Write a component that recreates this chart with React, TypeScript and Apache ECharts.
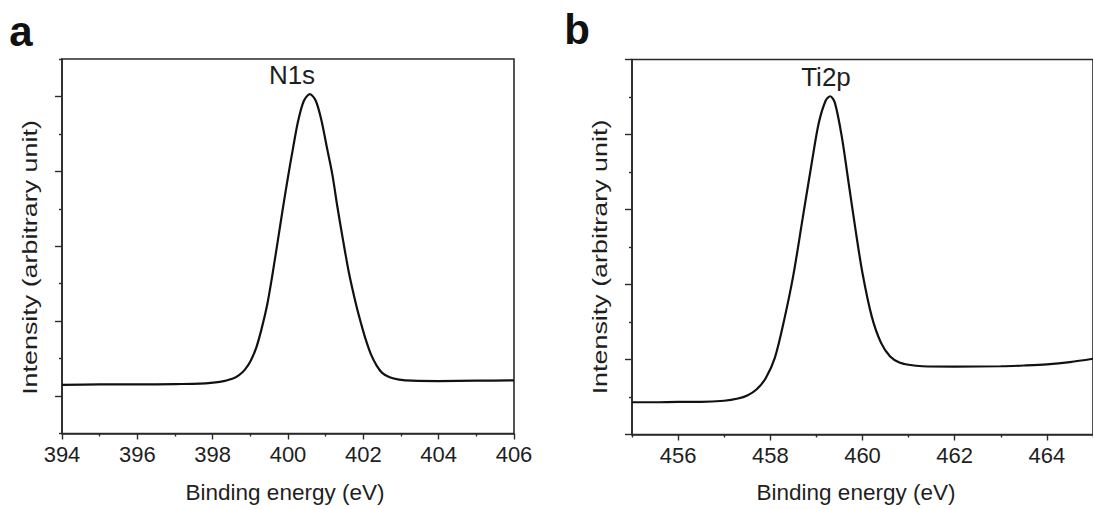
import React, { useEffect, useRef } from "react";
import * as echarts from "echarts";

// N1s spectrum (panel a)
const n1sEnergy = [394.0, 395.0, 396.0, 397.0, 397.66, 398.19, 398.54, 398.7, 398.85, 399.0, 399.16, 399.3, 399.45, 399.58, 399.73, 399.87, 400.0, 400.13, 400.27, 400.42, 400.58, 400.74, 400.89, 401.03, 401.18, 401.31, 401.46, 401.62, 401.82, 401.95, 402.06, 402.2, 402.35, 402.5, 402.7, 402.95, 403.3, 404.0, 405.0, 406.0];
const n1sIntensity = [1.30, 1.31, 1.31, 1.32, 1.33, 1.38, 1.47, 1.56, 1.70, 1.92, 2.30, 2.80, 3.45, 4.20, 5.15, 6.05, 6.85, 7.60, 8.35, 8.88, 9.06, 8.88, 8.35, 7.65, 6.90, 6.06, 5.17, 4.28, 3.39, 2.90, 2.52, 2.12, 1.82, 1.62, 1.50, 1.44, 1.41, 1.40, 1.41, 1.42];

// Ti2p spectrum (panel b)
const ti2pEnergy = [455.0, 455.5, 456.0, 456.5, 457.0, 457.3, 457.5, 457.7, 457.9, 458.1, 458.3, 458.5, 458.7, 458.9, 459.05, 459.2, 459.3, 459.4, 459.55, 459.7, 459.85, 460.0, 460.2, 460.4, 460.6, 460.8, 461.0, 461.3, 462.0, 463.0, 463.5, 464.0, 464.5, 465.0];
const ti2pIntensity = [0.86, 0.86, 0.87, 0.87, 0.90, 0.96, 1.04, 1.20, 1.50, 2.05, 3.05, 4.25, 5.75, 7.25, 8.30, 8.90, 9.02, 8.85, 7.95, 6.70, 5.45, 4.30, 3.15, 2.45, 2.08, 1.92, 1.86, 1.82, 1.81, 1.82, 1.84, 1.87, 1.93, 2.02];

// Axis ticks
const n1sXLabels = [394, 396, 398, 400, 402, 404, 406];
const ti2pXLabels = [456, 458, 460, 462, 464];
const ti2pXMinor = [455, 457, 459, 461, 463, 465];
const n1sYMajor = [1, 3, 5, 7, 9];

const FONT = "'Liberation Sans', Arial, Helvetica, sans-serif";
const AX = "#2a2a2a";
const TXT = "#1e1e1e";

export default function App() {
  const ref = useRef<HTMLDivElement>(null);
  useEffect(() => {
    if (!ref.current) return;
    const chart = echarts.init(ref.current, null, { renderer: "svg" });
    const axisLine = { show: true, lineStyle: { color: AX, width: 1.6 } };
    const labelStyle = { color: TXT, fontSize: 22, fontFamily: FONT, margin: 10 };
    const hidden = { show: false };
    const option: any = {
      animation: false,
      backgroundColor: "#ffffff",
      grid: [
        { left: 62, top: 59, right: 579, bottom: 75.5, show: true, borderColor: AX, borderWidth: 1.6, backgroundColor: "transparent" },
        { left: 632, top: 59.5, right: -7, bottom: 74.5, show: true, borderColor: AX, borderWidth: 1.6, backgroundColor: "transparent" },
      ],
      xAxis: [
        {
          type: "value", gridIndex: 0, position: "bottom", min: 394, max: 406, interval: 2,
          axisLine, splitLine: hidden,
          axisTick: { show: true, inside: false, length: 6, lineStyle: { color: AX, width: 1.4 } },
          minorTick: { show: true, splitNumber: 2, length: 3, lineStyle: { color: AX, width: 1.4 } },
          axisLabel: { ...labelStyle, customValues: n1sXLabels },
        },
        {
          type: "value", gridIndex: 1, position: "bottom", min: 455, max: 465,
          axisLine, splitLine: hidden,
          axisTick: { show: true, inside: false, length: 6, customValues: ti2pXLabels, lineStyle: { color: AX, width: 1.4 } },
          axisLabel: { ...labelStyle, customValues: ti2pXLabels },
        },
        {
          type: "value", gridIndex: 1, position: "bottom", offset: 0, min: 455, max: 465,
          axisLine: hidden, splitLine: hidden, axisLabel: hidden,
          axisTick: { show: true, inside: false, length: 3, customValues: ti2pXMinor, lineStyle: { color: AX, width: 1.4 } },
        },
      ],
      yAxis: [
        {
          type: "value", gridIndex: 0, position: "left", min: 0, max: 10, interval: 2,
          axisLine, splitLine: hidden, axisLabel: hidden,
          axisTick: { show: true, inside: false, length: 3, lineStyle: { color: AX, width: 1.4 } },
        },
        {
          type: "value", gridIndex: 0, position: "left", offset: 0, min: 0, max: 10,
          axisLine: hidden, splitLine: hidden, axisLabel: hidden,
          axisTick: { show: true, inside: false, length: 7, customValues: n1sYMajor, lineStyle: { color: AX, width: 1.4 } },
        },
        {
          type: "value", gridIndex: 1, position: "left", min: 0, max: 10, interval: 2,
          axisLine, splitLine: hidden, axisLabel: hidden,
          axisTick: { show: true, inside: false, length: 7, lineStyle: { color: AX, width: 1.4 } },
          minorTick: { show: true, splitNumber: 2, length: 3, lineStyle: { color: AX, width: 1.4 } },
        },
      ],
      series: [
        {
          type: "line", xAxisIndex: 0, yAxisIndex: 0, showSymbol: false, smooth: 0.3,
          lineStyle: { color: "#111111", width: 2.2 },
          data: n1sEnergy.map((e, i) => [e, n1sIntensity[i]]),
        },
        {
          type: "line", xAxisIndex: 1, yAxisIndex: 2, showSymbol: false, smooth: 0.3,
          lineStyle: { color: "#111111", width: 2.2 },
          data: ti2pEnergy.map((e, i) => [e, ti2pIntensity[i]]),
        },
      ],
      graphic: [
        { type: "text", x: 21, y: 31, style: { text: "a", font: `bold 42px ${FONT}`, fill: "#111", align: "center", verticalAlign: "middle" } },
        { type: "text", x: 577, y: 29, style: { text: "b", font: `bold 42px ${FONT}`, fill: "#111", align: "center", verticalAlign: "middle" } },
        { type: "text", x: 292, y: 75, style: { text: "N1s", font: `26px ${FONT}`, fill: TXT, align: "center", verticalAlign: "middle" } },
        { type: "text", x: 826, y: 77, style: { text: "Ti2p", font: `26px ${FONT}`, fill: TXT, align: "center", verticalAlign: "middle" } },
        { type: "text", x: 285, y: 492, style: { text: "Binding energy (eV)", font: `22.5px ${FONT}`, fill: TXT, align: "center", verticalAlign: "middle" } },
        { type: "text", x: 856, y: 492, style: { text: "Binding energy (eV)", font: `22.5px ${FONT}`, fill: TXT, align: "center", verticalAlign: "middle" } },
        { type: "text", x: 30, y: 257.5, rotation: Math.PI / 2, scaleX: 1.28, style: { text: "Intensity (arbitrary unit)", font: `21px ${FONT}`, fill: TXT, align: "center", verticalAlign: "middle" } },
        { type: "text", x: 600, y: 257, rotation: Math.PI / 2, scaleX: 1.28, style: { text: "Intensity (arbitrary unit)", font: `21px ${FONT}`, fill: TXT, align: "center", verticalAlign: "middle" } },
      ],
    };
    chart.setOption(option);
    return () => chart.dispose();
  }, []);
  return <div ref={ref} style={{ position: "fixed", left: 0, top: 0, width: 1093, height: 509, background: "#fff" }} />;
}
